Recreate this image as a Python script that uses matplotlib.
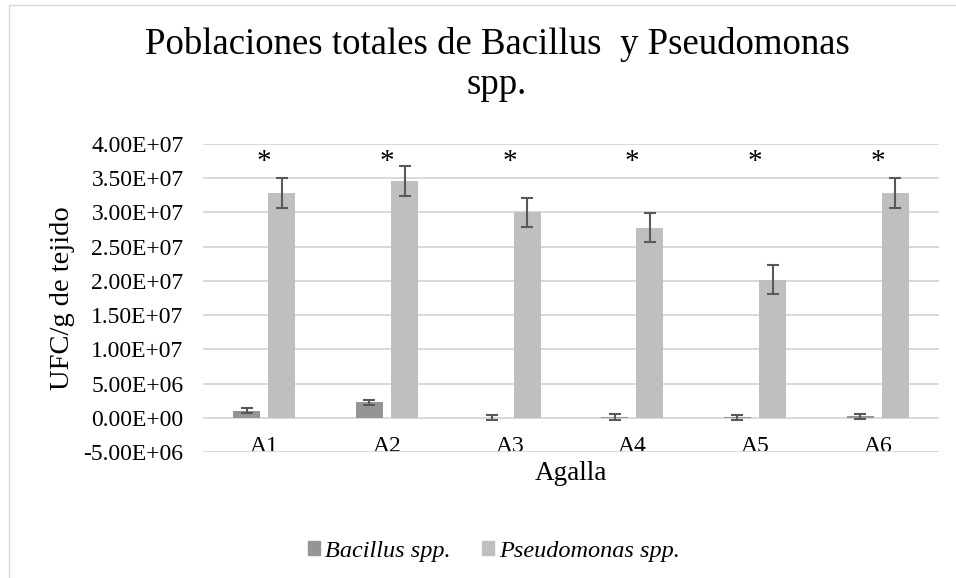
import numpy as np
import matplotlib
matplotlib.use("Agg")
import matplotlib.pyplot as plt
from matplotlib.patches import Rectangle, Patch
from matplotlib.ticker import MultipleLocator, FuncFormatter

plt.rcParams['font.family'] = ['Liberation Serif', 'DejaVu Serif']

agallas = ['A1', 'A2', 'A3', 'A4', 'A5', 'A6']
bacillus = [1.0e6, 2.25e6, 0.03e6, 0.12e6, 0.05e6, 0.25e6]
bacillus_err = [0.37e6, 0.4e6, 0.37e6, 0.4e6, 0.37e6, 0.37e6]
pseudomonas = [3.28e7, 3.46e7, 3.0e7, 2.78e7, 2.02e7, 3.29e7]
pseudomonas_err = [2.2e6, 2.2e6, 2.1e6, 2.15e6, 2.15e6, 2.2e6]
signif = ['*', '*', '*', '*', '*', '*']
signif_y = 3.74e7

W, H = 956, 578
fig = plt.figure(figsize=(W / 100, H / 100), dpi=100)

# light chart border (only top/left visible in the original)
fig.patches.append(Rectangle((9 / W, -0.02), 1.05, 1 - 5 / H + 0.02,
                             transform=fig.transFigure, fill=False,
                             edgecolor='#d9d9d9', linewidth=1.0))

ax = fig.add_axes([203 / W, 1 - 452 / H, 736 / W, 308 / H])

x = np.arange(len(agallas))
width = 0.22
off = 0.143
c_bac = '#959595'
c_pse = '#bfbfbf'

ax.bar(x - off, bacillus, width, color=c_bac, zorder=2)
ax.bar(x + off, pseudomonas, width, color=c_pse, zorder=2)
ax.errorbar(x - off, bacillus, yerr=bacillus_err, fmt='none', ecolor='#595959',
            elinewidth=1.5, capsize=4.5, capthick=1.5, zorder=3)
ax.errorbar(x + off, pseudomonas, yerr=pseudomonas_err, fmt='none', ecolor='#595959',
            elinewidth=1.5, capsize=4.5, capthick=1.5, zorder=3)

for i, s in enumerate(signif):
    ax.text(x[i], signif_y, s, ha='center', va='center', fontsize=21)

ax.set_xlim(-0.5, len(agallas) - 0.5)
ax.set_ylim(-5e6, 4e7)
ax.yaxis.set_major_locator(MultipleLocator(5e6))
ax.yaxis.set_major_formatter(FuncFormatter(lambda v, p: f"{v:.2E}"))
ax.grid(axis='y', color='#d9d9d9', linewidth=1.4, zorder=0)
ax.set_axisbelow(True)
for sp in ax.spines.values():
    sp.set_visible(False)
ax.spines['bottom'].set_position(('data', 0))

ax.set_xticks(x)
ax.set_xticklabels(agallas)
ax.tick_params(axis='both', length=0, labelsize=17)
ax.tick_params(axis='y', pad=14)
ax.tick_params(axis='x', pad=13)

ax.set_xlabel('Agalla', fontsize=19.5, labelpad=3)
ax.set_ylabel('UFC/g de tejido', fontsize=20.5, labelpad=6)

fig.text(497 / W, 1 - 27 / H, 'Poblaciones totales de Bacillus  y Pseudomonas\nspp.',
         ha='center', va='top', fontsize=26.5, linespacing=1.2)

handles = [Patch(color=c_bac, label='Bacillus spp.'),
           Patch(color=c_pse, label='Pseudomonas spp.')]
fig.legend(handles=handles, loc='center', bbox_to_anchor=(494 / W, 1 - 551 / H),
           ncol=2, frameon=False, prop={'style': 'italic', 'size': 17.5},
           handlelength=0.5, handleheight=0.5, handletextpad=0.2,
           columnspacing=1.3)

fig.savefig('out.png', dpi=100)
